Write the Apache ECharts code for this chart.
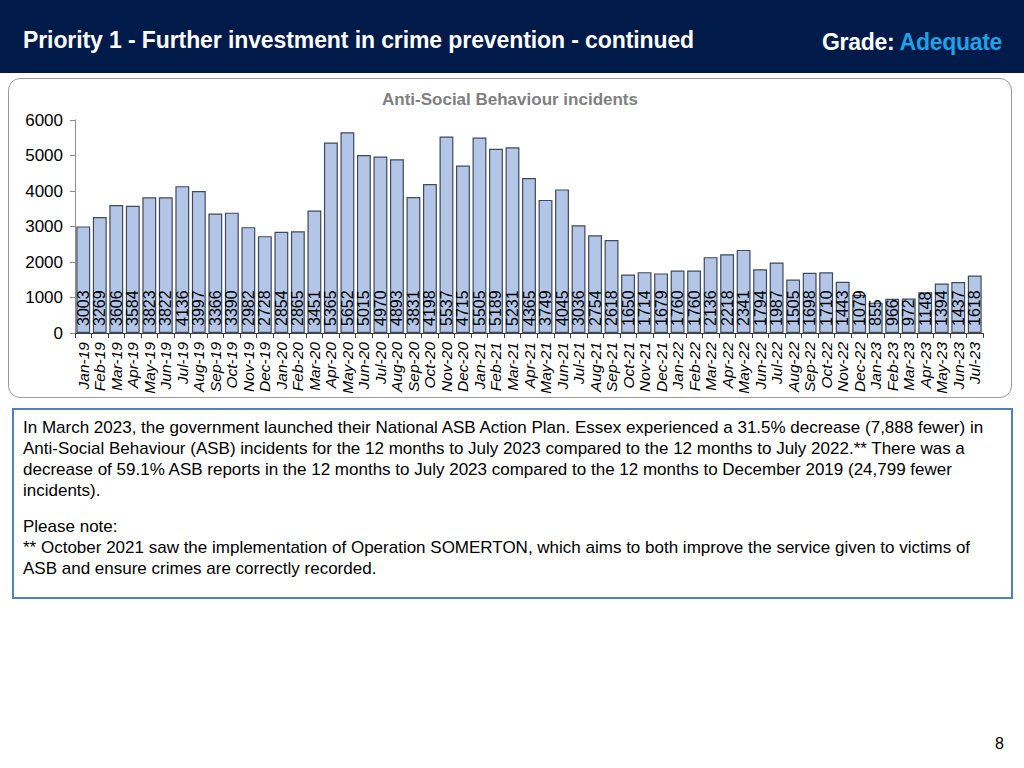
<!DOCTYPE html>
<html>
<head>
<meta charset="utf-8">
<script src="https://cdn.jsdelivr.net/npm/echarts@6/dist/echarts.min.js"></script>
<style>
  html, body { margin: 0; padding: 0; width: 1024px; height: 768px; background: #fff; overflow: hidden; font-family: "Liberation Sans", Arial, sans-serif; }
  #header { position: absolute; left: 0; top: 0; width: 1024px; height: 73px; background: #001a4a; }
  #title { position: absolute; left: 23px; top: 27px; color: #fff; font-weight: bold; font-size: 23px; letter-spacing: -0.1px; white-space: nowrap; }
  #grade { position: absolute; right: 22px; top: 29px; color: #fff; font-weight: bold; font-size: 23px; letter-spacing: -0.3px; white-space: nowrap; }
  #grade span { color: #1ea2e4; }
  #chartbox { position: absolute; left: 8px; top: 78px; width: 1004px; height: 320px; border: 1.5px solid #9a9a9a; border-radius: 12px; box-sizing: border-box; }
  #chart { position: absolute; left: 8px; top: 78px; width: 1004px; height: 321px; }
  #textbox { position: absolute; left: 12px; top: 408px; width: 1001px; height: 191px; border: 2px solid #4f81bd; box-sizing: border-box; padding: 7px 9px; font-size: 17px; line-height: 21px; color: #000; white-space: nowrap; }
  #textbox p { margin: 0; }
  #page { position: absolute; left: 995px; top: 735px; font-size: 16px; color: #000; }
</style>
</head>
<body>
<div id="header">
  <div id="title">Priority 1 - Further investment in crime prevention - continued</div>
  <div id="grade">Grade: <span>Adequate</span></div>
</div>
<div id="chartbox"></div>
<div id="chart"></div>
<div id="textbox">
  <p>In March 2023, the government launched their National ASB Action Plan. Essex experienced a 31.5% decrease (7,888 fewer) in<br>Anti-Social Behaviour (ASB) incidents for the 12 months to July 2023 compared to the 12 months to July 2022.** There was a<br>decrease of 59.1% ASB reports in the 12 months to July 2023 compared to the 12 months to December 2019 (24,799 fewer<br>incidents).</p>
  <p style="margin-top:15px">Please note:<br>** October 2021 saw the implementation of Operation SOMERTON, which aims to both improve the service given to victims of<br>ASB and ensure crimes are correctly recorded.</p>
</div>
<div id="page">8</div>
<script>
const chartTitle = 'Anti-Social Behaviour incidents';
const months = ['Jan-19','Feb-19','Mar-19','Apr-19','May-19','Jun-19','Jul-19','Aug-19','Sep-19','Oct-19','Nov-19','Dec-19',
  'Jan-20','Feb-20','Mar-20','Apr-20','May-20','Jun-20','Jul-20','Aug-20','Sep-20','Oct-20','Nov-20','Dec-20',
  'Jan-21','Feb-21','Mar-21','Apr-21','May-21','Jun-21','Jul-21','Aug-21','Sep-21','Oct-21','Nov-21','Dec-21',
  'Jan-22','Feb-22','Mar-22','Apr-22','May-22','Jun-22','Jul-22','Aug-22','Sep-22','Oct-22','Nov-22','Dec-22',
  'Jan-23','Feb-23','Mar-23','Apr-23','May-23','Jun-23','Jul-23'];
const incidents = [3003,3269,3606,3584,3823,3822,4136,3997,3366,3390,2982,2728,
  2854,2865,3451,5365,5652,5015,4970,4893,3831,4198,5537,4715,
  5505,5189,5231,4365,3749,4045,3036,2754,2618,1650,1714,1679,
  1760,1760,2136,2218,2341,1794,1987,1505,1698,1710,1443,1079,
  855,966,972,1148,1394,1437,1618];
const yTicks = [0,1000,2000,3000,4000,5000,6000];

const chart = echarts.init(document.getElementById('chart'), null, {renderer: 'svg'});
chart.setOption({
  animation: false,
  title: {
    text: chartTitle, left: 'center', top: 8,
    textStyle: { color: '#7f7f7f', fontSize: 17, fontWeight: 'bold', fontFamily: 'Liberation Sans, Arial' }
  },
  grid: { left: 67, right: 29, top: 42, bottom: 66, containLabel: false },
  xAxis: {
    type: 'category', data: months,
    axisLine: { lineStyle: { color: '#404040', width: 1 } },
    axisTick: { show: true, length: 5, lineStyle: { color: '#404040' } },
    axisLabel: { rotate: 90, interval: 0, margin: 9, fontSize: 15.5, fontStyle: 'italic', color: '#000', fontFamily: 'Liberation Sans, Arial' }
  },
  yAxis: {
    type: 'value', min: yTicks[0], max: yTicks[yTicks.length - 1], interval: 1000,
    axisLine: { show: true, lineStyle: { color: '#8c8c8c' } },
    axisTick: { show: true, length: 5, lineStyle: { color: '#8c8c8c' } },
    splitLine: { show: false },
    axisLabel: { fontSize: 17, color: '#000', margin: 12, fontFamily: 'Liberation Sans, Arial', formatter: v => String(v) }
  },
  series: [{
    type: 'bar', data: incidents, barCategoryGap: '16%',
    itemStyle: { color: '#b4c6e7', borderColor: '#3f4a5a', borderWidth: 1.2 },
    label: {
      show: true, position: 'insideBottom', rotate: 90, align: 'left', verticalAlign: 'middle',
      distance: 7, fontSize: 16, color: '#000', fontFamily: 'Liberation Sans, Arial'
    }
  }]
});
</script>
</body>
</html>
